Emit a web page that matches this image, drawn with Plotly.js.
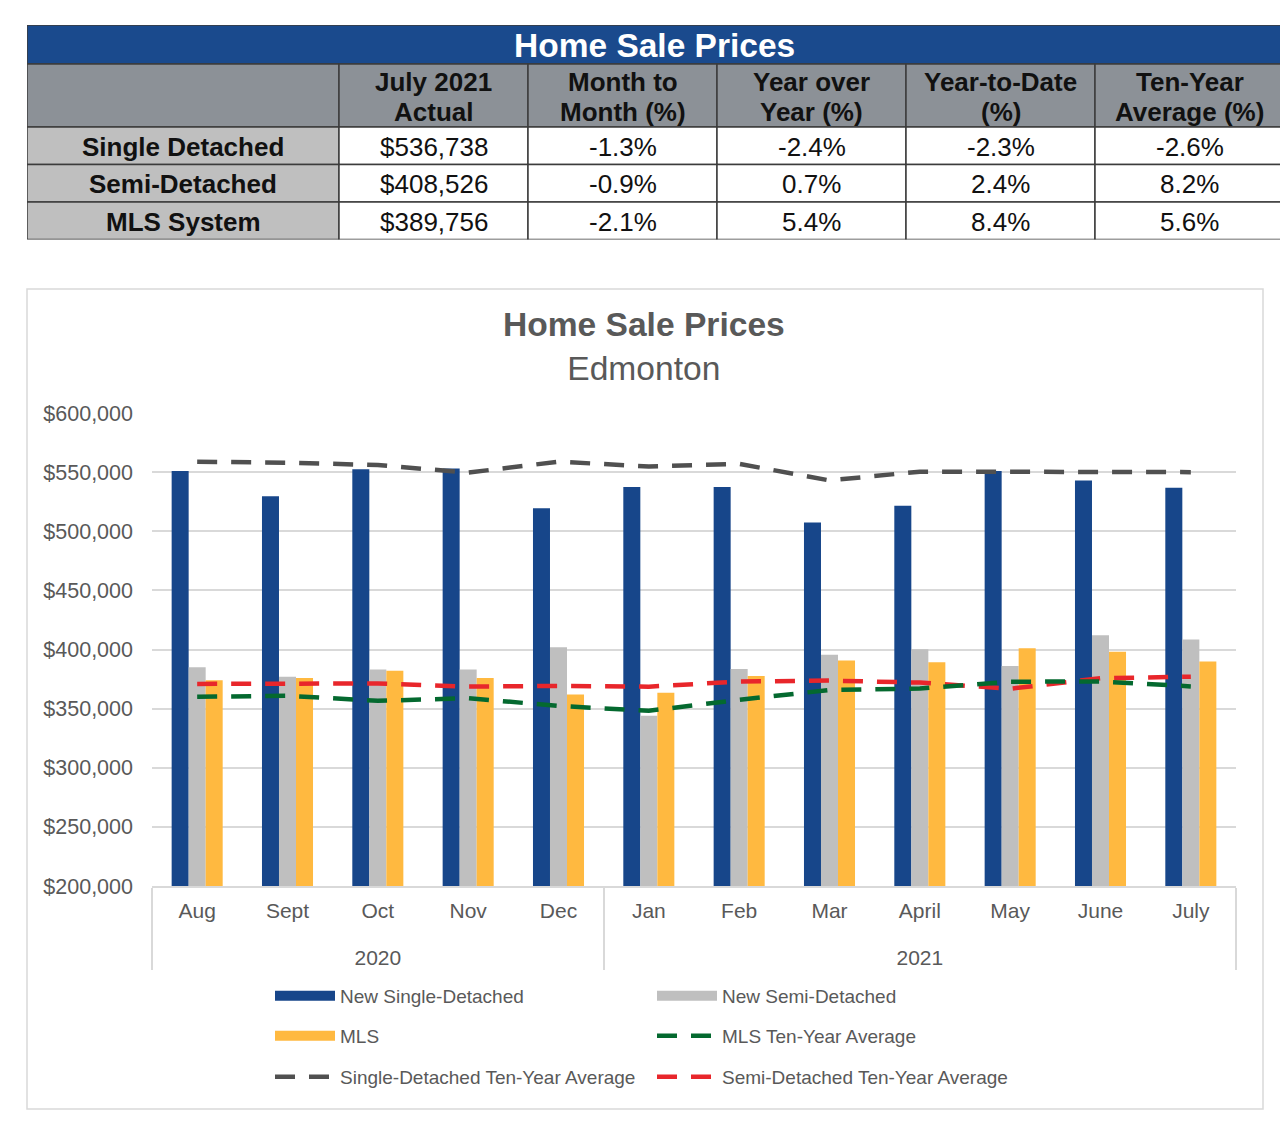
<!DOCTYPE html>
<html>
<head>
<meta charset="utf-8">
<script src="https://cdn.plot.ly/plotly-3.0.1.min.js"></script>
<style>
  html, body { margin: 0; padding: 0; background: #ffffff; }
  #chart { width: 1280px; height: 1121px; }
</style>
</head>
<body>
<div id="chart"></div>
<script>
// Months shown on the category axis, grouped by year
const months = ['Aug', 'Sept', 'Oct', 'Nov', 'Dec', 'Jan', 'Feb', 'Mar', 'April', 'May', 'June', 'July'];
const years = ['2020', '2020', '2020', '2020', '2020', '2021', '2021', '2021', '2021', '2021', '2021', '2021'];

// Monthly average sale prices (CAD)
const newSingleDetached = [551000, 529500, 552500, 553000, 519500, 537500, 537500, 507500, 521500, 551000, 543000, 536738];
const newSemiDetached = [385000, 377000, 383000, 383000, 402000, 344000, 383500, 395500, 400300, 386000, 412000, 408526];
const mlsPrice = [374000, 376000, 382000, 376000, 362000, 363500, 377500, 390600, 389200, 401000, 398000, 389756];

// Ten-year averages
const singleTenYearAvg = [558800, 558000, 556000, 549600, 558800, 554800, 557000, 543000, 550400, 550400, 549600, 550000];
const semiTenYearAvg = [370900, 371500, 371300, 368600, 369200, 368600, 372900, 373700, 372000, 366800, 375700, 377000];
const mlsTenYearAvg = [360000, 360800, 356600, 358800, 352300, 348200, 357400, 365800, 367000, 372800, 372900, 368800];

// Summary table
const tableTitle = 'Home Sale Prices';
const tableHeaders = [[''], ['July 2021', 'Actual'], ['Month to', 'Month (%)'], ['Year over', 'Year (%)'], ['Year-to-Date', '(%)'], ['Ten-Year', 'Average (%)']];
const tableRowLabels = ['Single Detached', 'Semi-Detached', 'MLS System'];
const monthToMonth = ['-1.3%', '-0.9%', '-2.1%'];
const yearOverYear = ['-2.4%', '0.7%', '5.4%'];
const yearToDate = ['-2.3%', '2.4%', '8.4%'];
const tenYearAverage = ['-2.6%', '8.2%', '5.6%'];

const last = months.length - 1;
const julyActual = [newSingleDetached[last], newSemiDetached[last], mlsPrice[last]]
  .map(v => '$' + v.toLocaleString('en-US'));
const tableColumns = [tableRowLabels, julyActual, monthToMonth, yearOverYear, yearToDate, tenYearAverage];

const W = 1280, H = 1121;
const px = v => v / W;
const py = v => 1 - v / H;

const tickGrey = '#595959';
const chartFont = 'Liberation Sans, Arial, sans-serif';
const legendFont = 'Liberation Sans Narrow, Liberation Sans, Arial, sans-serif';

const colors = {
  single: '#17468a',
  semi: '#bfbfbf',
  mls: '#ffb940',
  singleAvg: '#505050',
  semiAvg: '#e8262b',
  mlsAvg: '#04692f'
};

// second tick level is pushed one line lower so the year row sits under the months
const xCats = [years.map(y => ' <br>' + y), months];

const barTrace = (name, y, color) => ({
  type: 'bar', x: xCats, y: y, name: name, legendgroup: name,
  marker: { color: color, line: { width: 0 } }, showlegend: false,
  hovertemplate: '$%{y:,.0f}<extra>' + name + '</extra>'
});

const barKey = (name, color, legend) => ({
  type: 'scatter', mode: 'lines', x: [null], y: [null], name: name, legendgroup: name,
  line: { color: color, width: 12 }, legend: legend, hoverinfo: 'skip'
});

const avgTrace = (name, y, color, legend) => ({
  type: 'scatter', mode: 'lines', x: xCats, y: y, name: name, legend: legend,
  line: { color: color, width: 4.5, dash: '20px,14px' },
  hovertemplate: '$%{y:,.0f}<extra>' + name + '</extra>'
});

const data = [
  barTrace('New Single-Detached', newSingleDetached, colors.single),
  barTrace('New Semi-Detached', newSemiDetached, colors.semi),
  barTrace('MLS', mlsPrice, colors.mls),
  Object.assign(avgTrace('Single-Detached Ten-Year Average', singleTenYearAvg, colors.singleAvg, 'legend3'), { legendrank: 1 }),
  Object.assign(avgTrace('Semi-Detached Ten-Year Average', semiTenYearAvg, colors.semiAvg, 'legend3'), { legendrank: 2 }),
  Object.assign(avgTrace('MLS Ten-Year Average', mlsTenYearAvg, colors.mlsAvg, 'legend2'), { legendrank: 2 }),
  barKey('New Single-Detached', colors.single, 'legend'),
  barKey('New Semi-Detached', colors.semi, 'legend'),
  Object.assign(barKey('MLS', colors.mls, 'legend2'), { legendrank: 1 })
];

// ---- summary table: cells laid out on a hidden x2/y2 grid (units = px) ----
const colWidths = [312, 189, 189, 189, 189, 189];
const titleBand = 39, headerHeight = 63, rowHeight = 37.5;
const tableWidth = W - 27;
const tableHeight = titleBand + headerHeight + rowHeight * tableRowLabels.length;
const colEdges = colWidths.reduce((acc, w) => acc.concat(acc[acc.length - 1] + w), [0]);
const border = { color: '#3c3c3c', width: 1.5 };
const tableFontSize = 26;

const shapes = [
  // outer frame of the chart panel
  { type: 'rect', xref: 'paper', yref: 'paper', x0: px(27), x1: px(1263), y0: py(1109), y1: py(289),
    line: { color: '#d9d9d9', width: 1.5 }, fillcolor: 'rgba(0,0,0,0)', layer: 'below' },
  // table title band
  { type: 'rect', xref: 'x2', yref: 'y2', x0: 0, x1: colEdges[colEdges.length - 1], y0: 0, y1: titleBand,
    line: border, fillcolor: '#1a4a8d', layer: 'above' }
];
const annotations = [
  { xref: 'x2', yref: 'y2', x: (W - 27 + 628 - 27) / 2 - 300, y: titleBand / 2 + 1, xanchor: 'center', yanchor: 'middle',
    text: '<b>' + tableTitle + '</b>', showarrow: false,
    font: { family: chartFont, size: 33.5, color: '#ffffff' } }
];

tableHeaders.forEach((lines, c) => {
  const x0 = colEdges[c], x1 = colEdges[c + 1];
  shapes.push({ type: 'rect', xref: 'x2', yref: 'y2', x0: x0, x1: x1, y0: titleBand, y1: titleBand + headerHeight,
    line: border, fillcolor: '#8c9197', layer: 'above' });
  lines.forEach((t, i) => {
    if (!t) return;
    annotations.push({ xref: 'x2', yref: 'y2', x: (x0 + x1) / 2, y: titleBand + 18 + i * 30,
      xanchor: 'center', yanchor: 'middle', showarrow: false, text: '<b>' + t + '</b>',
      font: { family: chartFont, size: tableFontSize, color: '#111111' } });
  });
});

tableRowLabels.forEach((_, r) => {
  const y0 = titleBand + headerHeight + r * rowHeight, y1 = y0 + rowHeight;
  tableColumns.forEach((col, c) => {
    const x0 = colEdges[c], x1 = colEdges[c + 1];
    shapes.push({ type: 'rect', xref: 'x2', yref: 'y2', x0: x0, x1: x1, y0: y0, y1: y1,
      line: border, fillcolor: c === 0 ? '#bfbfbf' : '#ffffff', layer: 'above' });
    annotations.push({ xref: 'x2', yref: 'y2', x: (x0 + x1) / 2, y: (y0 + y1) / 2 + 1,
      xanchor: 'center', yanchor: 'middle', showarrow: false,
      text: c === 0 ? '<b>' + col[r] + '</b>' : col[r],
      font: { family: chartFont, size: tableFontSize, color: '#111111' } });
  });
});

const legendBase = (yPix) => ({
  orientation: 'h', x: px(270), xanchor: 'left', y: py(yPix), yanchor: 'middle',
  entrywidth: 307, entrywidthmode: 'pixels', itemwidth: 60,
  font: { family: legendFont, size: 19, color: tickGrey },
  bgcolor: 'rgba(0,0,0,0)', traceorder: 'normal', itemclick: false, itemdoubleclick: false
});

const layout = {
  width: W, height: H,
  margin: { l: 0, r: 0, t: 0, b: 0 },
  paper_bgcolor: '#ffffff', plot_bgcolor: '#ffffff',
  font: { family: chartFont, color: tickGrey },
  hovermode: 'closest',
  title: {
    text: '<b>Home Sale Prices</b><br>Edmonton',
    x: 0.503, xanchor: 'center', y: py(336), yanchor: 'middle', yref: 'container',
    font: { family: chartFont, size: 33.6, color: tickGrey }
  },
  barmode: 'group', bargap: 0.435, bargroupgap: 0,
  xaxis: {
    type: 'multicategory',
    domain: [px(152), px(1236)],
    showline: true, linecolor: '#d9d9d9', linewidth: 1.5,
    showgrid: false, ticks: '', ticklabelstandoff: 5,
    showdividers: true, dividercolor: '#d9d9d9', dividerwidth: 1.5,
    tickfont: { family: chartFont, size: 21, color: tickGrey }
  },
  yaxis: {
    domain: [py(886), py(413)],
    range: [200000, 600000], dtick: 50000,
    tickprefix: '$', tickformat: ',.0f',
    showgrid: true, gridcolor: '#d9d9d9', gridwidth: 1.5,
    zeroline: false, showline: false, ticks: '', ticklabelstandoff: 18,
    tickfont: { family: chartFont, size: 21.5, color: tickGrey }
  },
  xaxis2: { domain: [px(27), 1], range: [0, tableWidth], visible: false, fixedrange: true },
  yaxis2: { domain: [py(25 + tableHeight), py(25)], range: [tableHeight, 0], visible: false, fixedrange: true },
  legend: legendBase(996),
  legend2: legendBase(1036),
  legend3: legendBase(1077),
  shapes: shapes,
  annotations: annotations
};

Plotly.newPlot('chart', data, layout, { displayModeBar: false, responsive: false });
</script>
</body>
</html>
